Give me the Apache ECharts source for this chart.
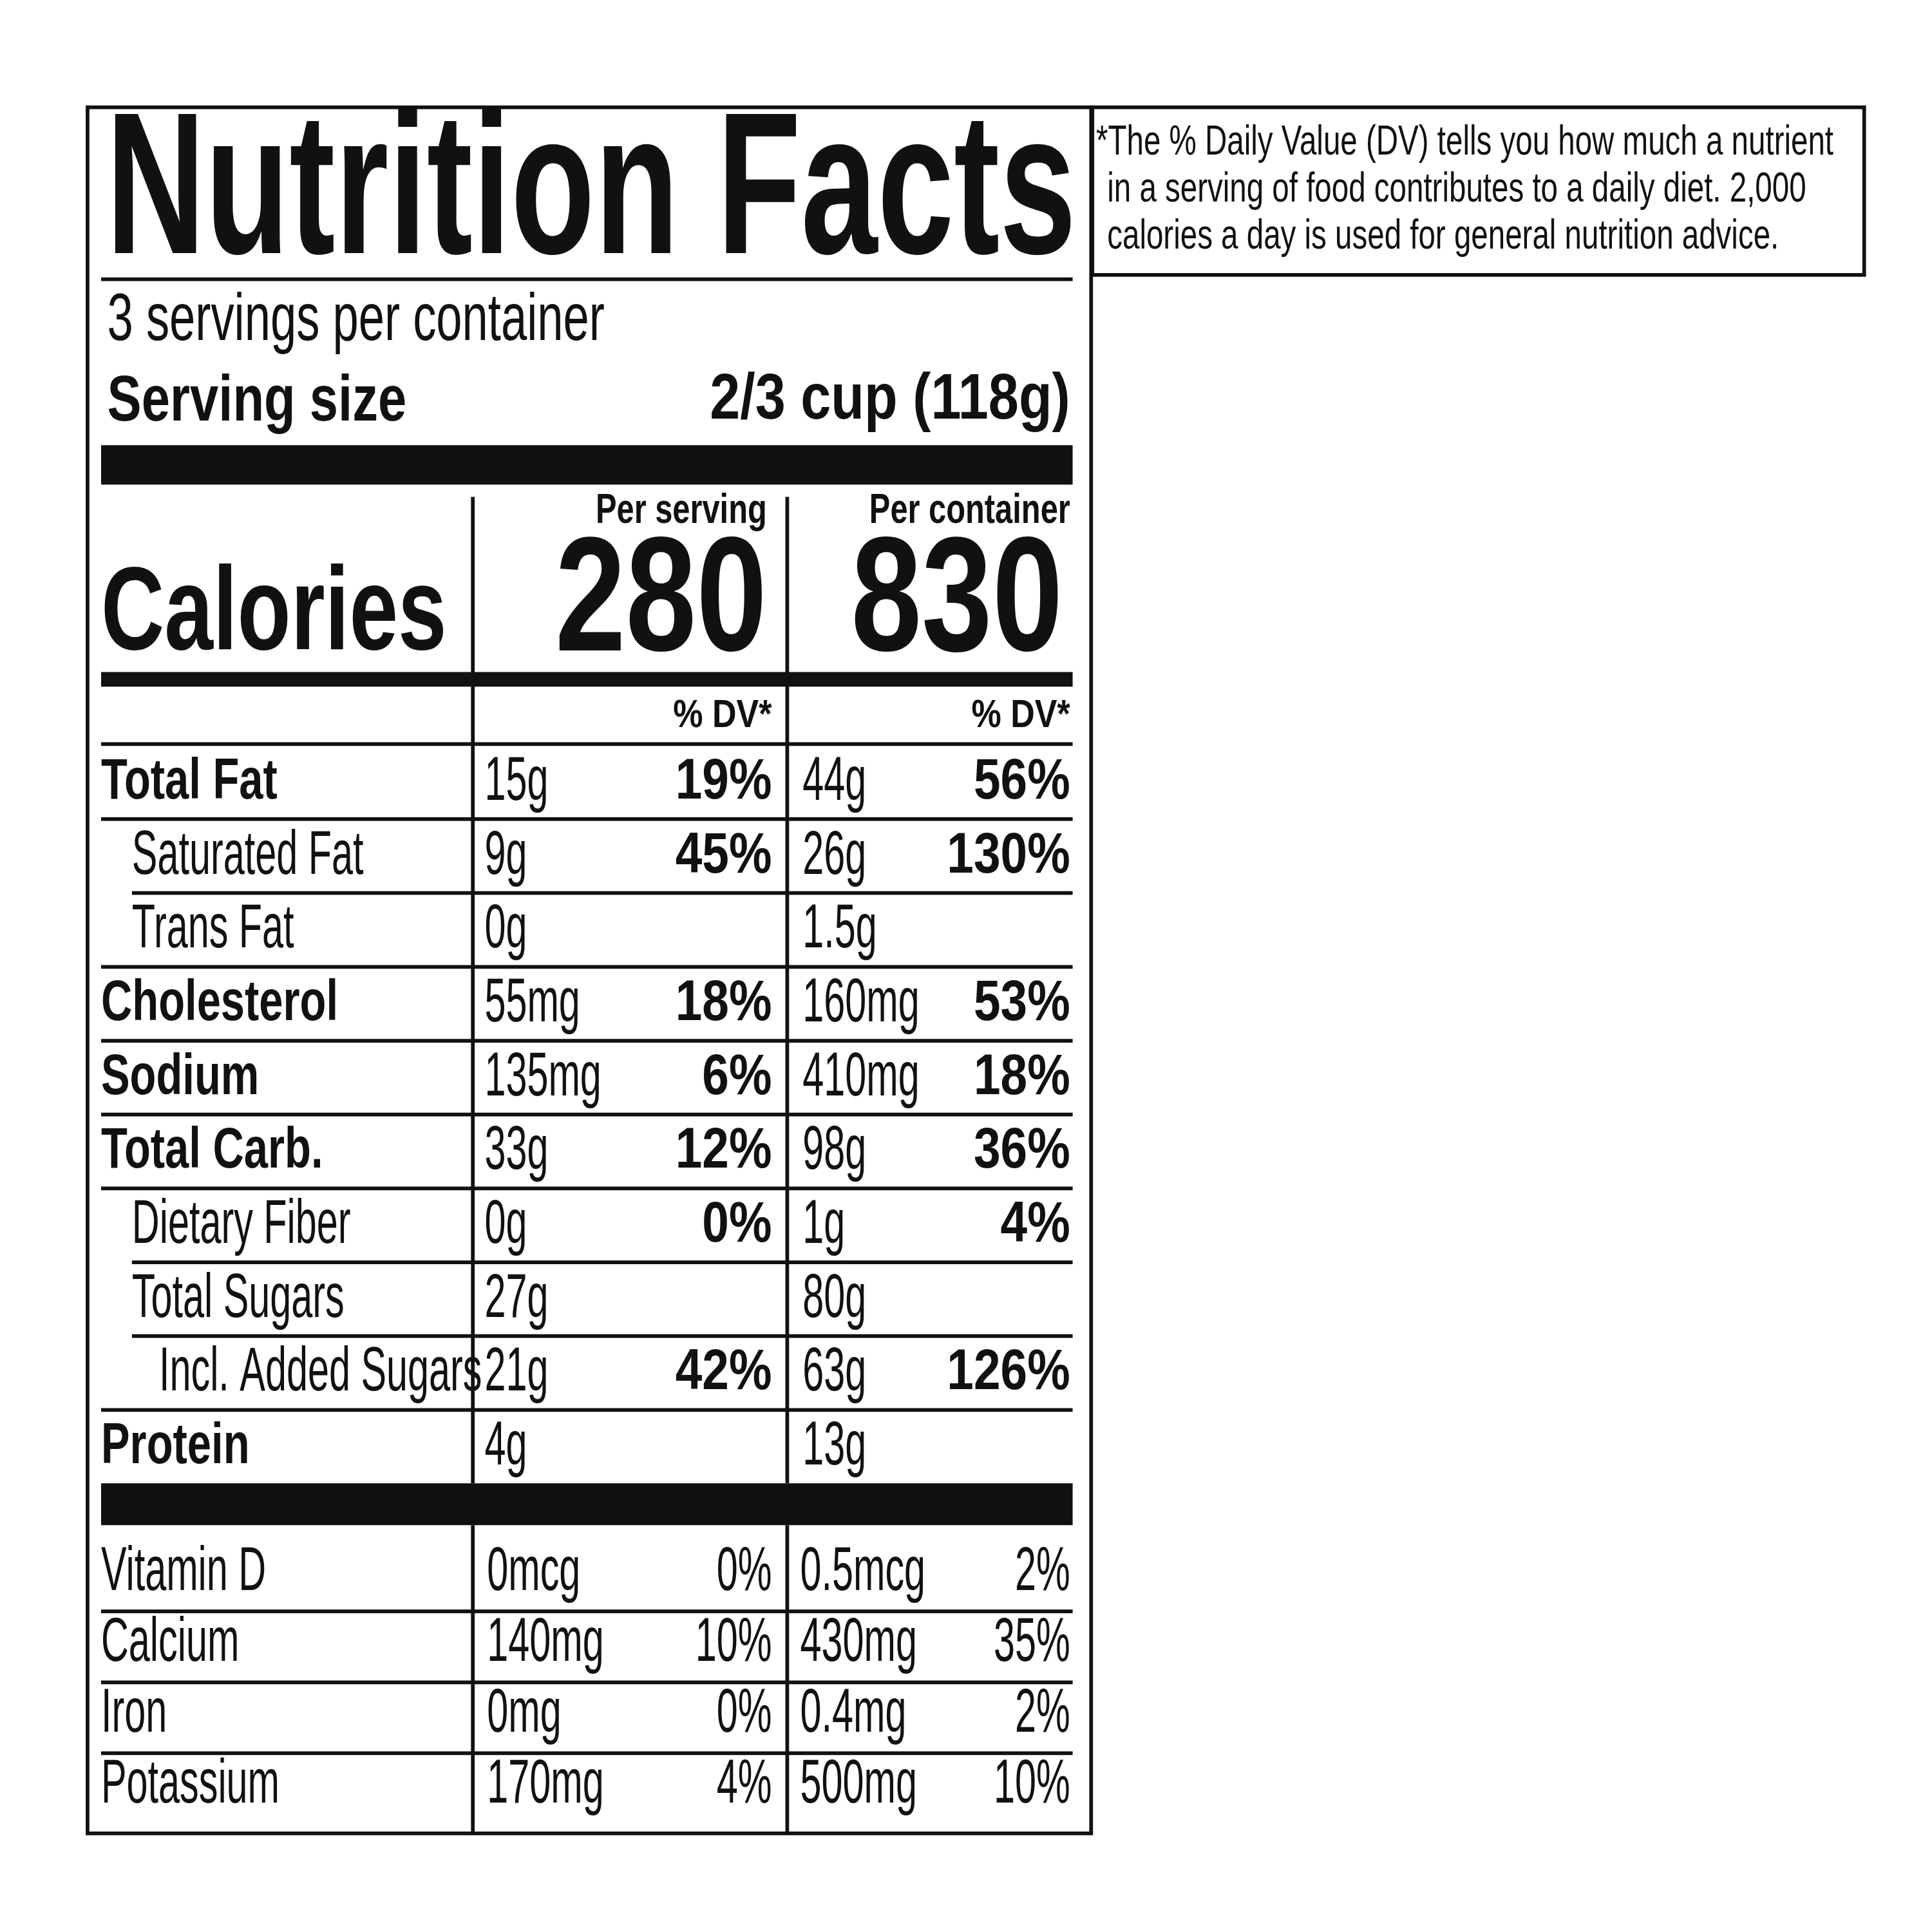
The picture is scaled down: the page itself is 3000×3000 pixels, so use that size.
<!DOCTYPE html>
<html>
<head>
<meta charset="utf-8">
<script src="https://cdn.jsdelivr.net/npm/echarts@6/dist/echarts.min.js"></script>
<style>html,body{margin:0;background:#fff}#main{width:3000px;height:3000px}</style>
</head>
<body>
<div id="main"></div>
<script>
// rows of the label
var labels = ['Total Fat', 'Saturated Fat', 'Trans Fat', 'Cholesterol', 'Sodium', 'Total Carb.', 'Dietary Fiber', 'Total Sugars', 'Incl. Added Sugars', 'Protein'];
var indent = [0, 1, 1, 0, 0, 0, 1, 1, 2, 0];
var servAmt = ['15g', '9g', '0g', '55mg', '135mg', '33g', '0g', '27g', '21g', '4g'];
var servDv = ['19%', '45%', '', '18%', '6%', '12%', '0%', '', '42%', ''];
var contAmt = ['44g', '26g', '1.5g', '160mg', '410mg', '98g', '1g', '80g', '63g', '13g'];
var contDv = ['56%', '130%', '', '53%', '18%', '36%', '4%', '', '126%', ''];
var vitLabels = ['Vitamin D', 'Calcium', 'Iron', 'Potassium'];
var vitServAmt = ['0mcg', '140mg', '0mg', '170mg'];
var vitServDv = ['0%', '10%', '0%', '4%'];
var vitContAmt = ['0.5mcg', '430mg', '0.4mg', '500mg'];
var vitContDv = ['2%', '35%', '2%', '10%'];
var calories = ['280', '830'];

var s = 3000 / 1567;
var FONT = '"Liberation Sans Narrow", "Liberation Sans", Arial, sans-serif';
var IND = [0, 25, 47];
var g = [];

function rect(x1, y1, x2, y2) {
    g.push({type: 'rect', shape: {x: x1 * s, y: y1 * s, width: (x2 - x1) * s, height: (y2 - y1) * s}, style: {fill: '#111'}});
}
function box(x1, y1, x2, y2, w) {
    g.push({type: 'rect', shape: {x: x1 * s, y: y1 * s, width: (x2 - x1) * s, height: (y2 - y1) * s},
        style: {fill: 'none', stroke: '#111', lineWidth: w * s}});
}
function txt(t, x, y, size, bold, align, sx) {
    g.push({type: 'text', x: x * s, y: y * s, scaleX: sx,
        style: {text: t, x: 0, y: 0, fontFamily: FONT, fontSize: size * s, fontWeight: bold ? 'bold' : 'normal',
            fill: '#111', align: align || 'left', verticalAlign: 'middle'}});
}

// outer boxes
box(71, 87, 885, 1487, 3);
box(886, 87, 1512, 223, 3);

// footnote
txt('*The % Daily Value (DV) tells you how much a nutrient', 889, 116, 34, false, 'left', 0.73);
txt('in a serving of food contributes to a daily diet. 2,000', 898, 154, 34, false, 'left', 0.73);
txt('calories a day is used for general nutrition advice.', 898, 192, 34, false, 'left', 0.73);

// header
txt('Nutrition Facts', 86, 160, 164, true, 'left', 0.68);
rect(82, 225, 870, 228);
txt('3 servings per container', 87, 261, 54, false, 'left', 0.7);
txt('Serving size', 87, 327, 52, true, 'left', 0.8);
txt('2/3 cup (118g)', 868, 325, 52, true, 'right', 0.85);
rect(82, 361, 870, 393);

// calories block
rect(382, 403, 385, 1203);
rect(637, 403, 640, 1203);
rect(382, 1237, 385, 1488);
rect(637, 1237, 640, 1488);
txt('Per serving', 622, 415, 34, true, 'right', 0.75);
txt('Per container', 868, 415, 34, true, 'right', 0.75);
txt('Calories', 82, 500, 96, true, 'left', 0.74);
txt(calories[0], 622, 491, 132, true, 'right', 0.78);
txt(calories[1], 862, 491, 132, true, 'right', 0.78);
rect(82, 545, 870, 557);
txt('% DV*', 626, 581, 32, true, 'right', 0.85);
txt('% DV*', 868, 581, 32, true, 'right', 0.85);
rect(82, 602, 870, 605);

// nutrient rows
var top0 = 604, rowH = 59.9;
labels.forEach(function (lab, i) {
    var cy = top0 + rowH * (i + 0.5) + 1;
    var bold = indent[i] === 0;
    txt(lab, 82 + IND[indent[i]], cy, bold ? 46 : 50, bold, 'left', bold ? 0.76 : 0.62);
    txt(servAmt[i], 393, cy, 50, false, 'left', 0.62);
    txt(servDv[i], 626, cy, 46, true, 'right', 0.85);
    txt(contAmt[i], 651, cy, 50, false, 'left', 0.62);
    txt(contDv[i], 868, cy, 46, true, 'right', 0.85);
    if (i < labels.length - 1) {
        var startX = 82 + IND[Math.min(indent[i], indent[i + 1])];
        rect(startX, top0 + rowH * (i + 1) - 1, 870, top0 + rowH * (i + 1) + 2);
    }
});
rect(82, 1203, 870, 1237);

// vitamins
var vtop = 1247, vH = 57.5;
vitLabels.forEach(function (lab, i) {
    var cy = vtop + vH * (i + 0.5);
    txt(lab, 82, cy, 50, false, 'left', 0.62);
    txt(vitServAmt[i], 395, cy, 50, false, 'left', 0.62);
    txt(vitServDv[i], 626, cy, 50, false, 'right', 0.62);
    txt(vitContAmt[i], 649, cy, 50, false, 'left', 0.62);
    txt(vitContDv[i], 868, cy, 50, false, 'right', 0.62);
    if (i < vitLabels.length - 1) rect(82, vtop + vH * (i + 1) + 1, 870, vtop + vH * (i + 1) + 4);
});

var chart = echarts.init(document.getElementById('main'));
chart.setOption({backgroundColor: '#fff', animation: false, graphic: g});
</script>
</body>
</html>
